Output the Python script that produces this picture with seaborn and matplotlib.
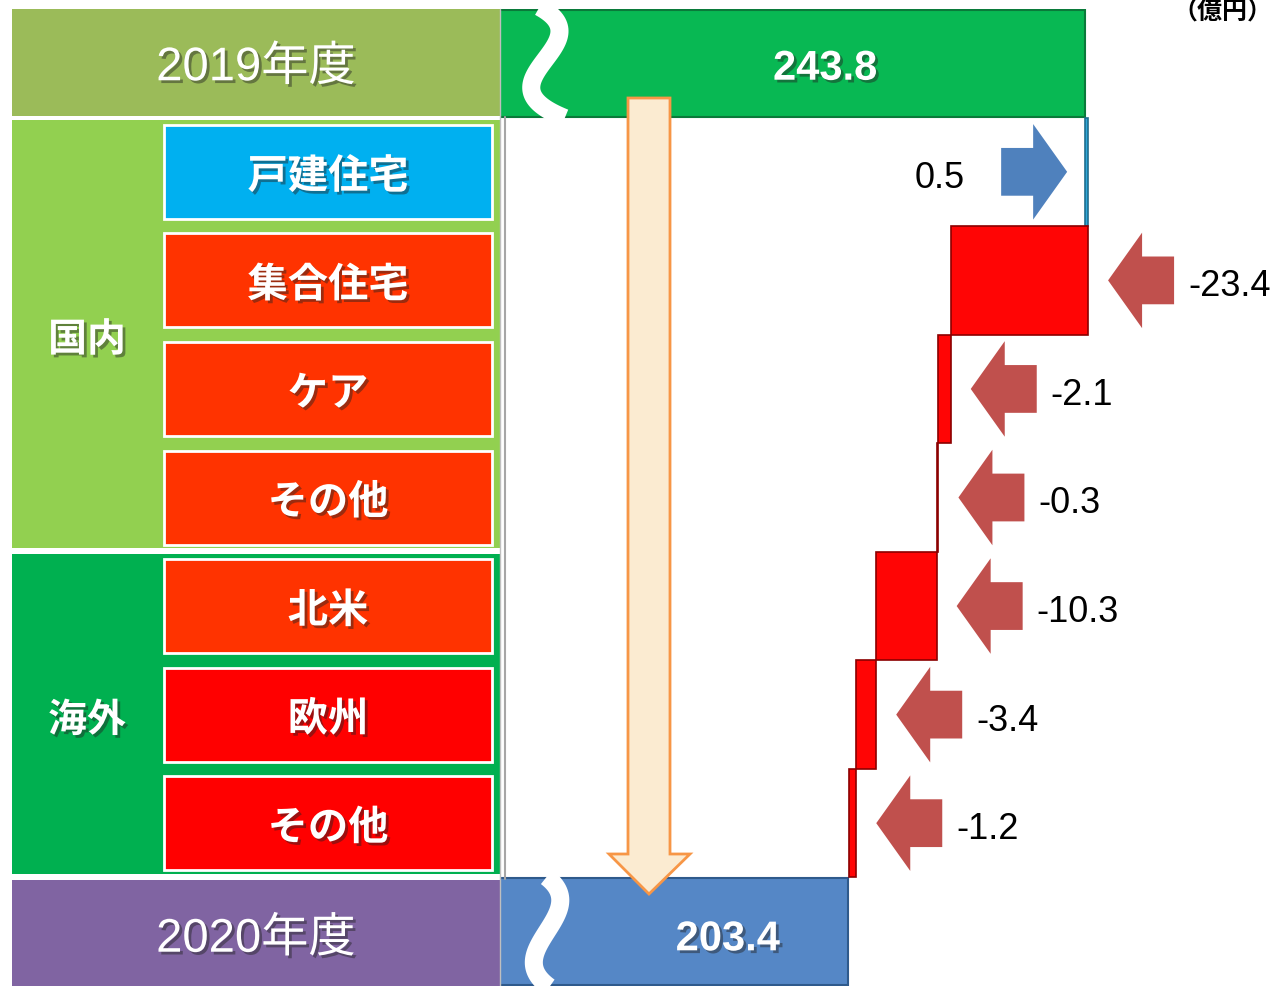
import numpy as np
import matplotlib
matplotlib.use('Agg')
import matplotlib.pyplot as plt
import matplotlib.patheffects as pe
from matplotlib.patches import Rectangle, Polygon
from matplotlib import font_manager
import seaborn as sns

# --- data ---
year_labels = ['2019年度', '2020年度']
year_totals = [243.8, 203.4]
segments = ['戸建住宅', '集合住宅', 'ケア', 'その他', '北米', '欧州', 'その他']
group_names = ['国内', '海外']
group_sizes = [4, 3]
changes = [0.5, -23.4, -2.1, -0.3, -10.3, -3.4, -1.2]
change_labels = ['0.5', '-23.4', '-2.1', '-0.3', '-10.3', '-3.4', '-1.2']
unit_label = '（億円）'

# --- colours ---
year_box_colors = ['#9BBB59', '#8064A2']
year_bar_colors = ['#08B853', '#5587C6']
group_colors = ['#92D050', '#00B050']
seg_colors = ['#00B0F0', '#FF3300', '#FF3300', '#FF3300', '#FF3300', '#FF0000', '#FF0000']
up_bar, down_bar = '#2FA8D8', '#FF0505'
up_arrow, down_arrow = '#4F81BD', '#C0504D'

sns.set_theme(style='white')
avail = {f.name for f in font_manager.fontManager.ttflist}
narrow = 'Liberation Sans Narrow' if 'Liberation Sans Narrow' in avail else 'Liberation Sans'
plt.rcParams['font.family'] = ['Noto Sans CJK JP', 'DejaVu Sans']
num_font = [narrow, 'Noto Sans CJK JP']

shadow = [pe.SimplePatchShadow(offset=(2, -2), shadow_rgbFace='#222222', alpha=0.45), pe.Normal()]

W, H = 1280, 987
top = 10
row_px = (H - top) / 9

fig = plt.figure(figsize=(12.8, 9.87), dpi=100)

# left table, pixel coordinates
bg = fig.add_axes([0, 0, 1, 1], zorder=0)
bg.set_xlim(0, W)
bg.set_ylim(H, 0)
bg.axis('off')

def row_top(i):
    return top + i * row_px

for k, (lab, col) in enumerate(zip(year_labels, year_box_colors)):
    r = 0 if k == 0 else 8
    y0 = row_top(r) + (0 if k == 0 else 3)
    bg.add_patch(Rectangle((12, y0), 488, row_px - 2, color=col, lw=0))
    bg.text(256, row_top(r) + row_px / 2 + (5 if k == 0 else 8), lab, color='white',
            fontsize=34, ha='center', va='center', family=num_font, path_effects=shadow)

start = 1
for g, (name, n, col) in enumerate(zip(group_names, group_sizes, group_colors)):
    y0 = row_top(start) + 2
    y1 = row_top(start + n) - (4 if g == 0 else 3)
    bg.add_patch(Rectangle((12, y0), 488, y1 - y0, color=col, lw=0))
    bg.text(87, (y0 + y1) / 2 + 6, name, color='white', fontsize=28, fontweight='bold',
            ha='center', va='center', path_effects=shadow)
    start += n

for i, (seg, col) in enumerate(zip(segments, seg_colors)):
    cy = row_top(i + 1) + row_px / 2
    bg.add_patch(Rectangle((164, cy - 47), 328, 94, facecolor=col, edgecolor='white', lw=2))
    bg.text(328, cy + 5, seg, color='white', fontsize=29, fontweight='bold',
            ha='center', va='center', path_effects=shadow)

# waterfall axes
ax = fig.add_axes([500 / W, 0, 780 / W, (H - top) / H], zorder=1)
ax.patch.set_visible(False)
ax.set_xlim(144.1, 277.0)
ax.set_ylim(8.5, -0.5)
ax.axis('off')
dx = (277.0 - 144.1) / 780  # data units per pixel

ax.barh([0, 8], year_totals, left=0, height=0.985, color=year_bar_colors,
        edgecolor=['#0A7A3A', '#2F5A8C'], lw=1.5)
for r, v, cx, dy in zip([0, 8], year_totals, [199.5, 182.9], [0.05, 0.07]):
    ax.text(cx, r + dy, f'{v:.1f}', color='white', fontsize=30, fontweight='bold',
            ha='center', va='center', family=num_font, path_effects=shadow)


def block_arrow(tip_x, y, direction, color):
    head, total = 34 * dx, 66 * dx
    hh, sh = 0.44, 0.22
    b1 = tip_x - direction * head
    b2 = tip_x - direction * total
    pts = [(tip_x, y), (b1, y - hh), (b1, y - sh), (b2, y - sh),
           (b2, y + sh), (b1, y + sh), (b1, y + hh)]
    ax.add_patch(Polygon(pts, closed=True, color=color, lw=0, zorder=3))


running = year_totals[0]
for i, (c, lab) in enumerate(zip(changes, change_labels)):
    r = i + 1
    left = running if c > 0 else running + c
    ax.barh(r, abs(c), left=left, height=1.0,
            color=up_bar if c > 0 else down_bar,
            edgecolor='#1F6E8F' if c > 0 else '#8B0000', lw=1.2, zorder=2)
    if c > 0:
        block_arrow(left - 18 * dx, r, 1, up_arrow)
        ax.text(left - 120 * dx, r + 0.05, lab, fontsize=26, ha='right', va='center',
                color='black', family=num_font)
    else:
        block_arrow(running + 20 * dx, r, -1, down_arrow)
        ax.text(running + 100 * dx, r + 0.05, lab, fontsize=26, ha='left', va='center',
                color='black', family=num_font)
    running += c

# overlay: break marks, flow arrow, unit
ov = fig.add_axes([0, 0, 1, 1], zorder=3)
ov.patch.set_visible(False)
ov.set_xlim(0, W)
ov.set_ylim(H, 0)
ov.axis('off')

ov.plot([505, 505], [118, 880], color='#A6A6A6', lw=1.5)
ov.plot([500, 500], [10, 987], color='#BFBFBF', lw=1)

for ys, xs in [([10, 40, 80, 117], [543, 558, 533, 560]),
               ([880, 905, 950, 987], [549, 560, 537, 548])]:
    coef = np.polyfit(ys, xs, 3)
    yy = np.linspace(ys[0] - 2, ys[-1] + 2, 80)
    ov.plot(np.polyval(coef, yy), yy, color='white', lw=13, solid_capstyle='butt')

flow = [(628, 99), (670, 99), (670, 855), (690, 855), (649, 895),
        (609, 855), (628, 855)]
ov.add_patch(Polygon(flow, closed=True, facecolor='#FBEBD1', edgecolor='#F79646', lw=2))

ov.text(1222, 1, unit_label, fontsize=18, fontweight='bold', ha='center', va='top',
        color='black')

fig.savefig('out.png', dpi=100)
